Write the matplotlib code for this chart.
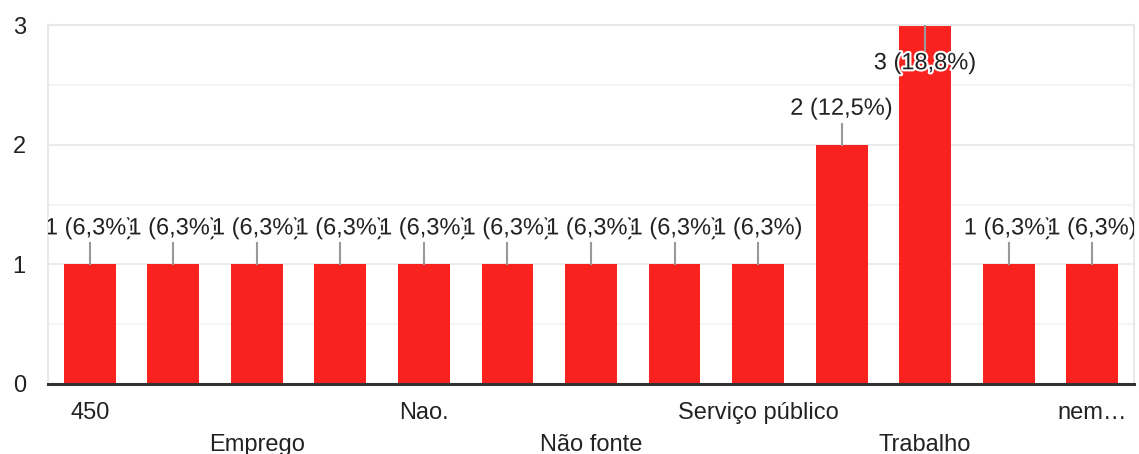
import matplotlib
matplotlib.use('Agg')
import matplotlib.pyplot as plt
import matplotlib.patheffects as pe
from matplotlib.ticker import MultipleLocator

plt.rcParams['font.family'] = ['Liberation Sans', 'DejaVu Sans']

# categorias (só as que aparecem no eixo; as outras ficam ocultas)
categorias = ['450', '', 'Emprego', '', 'Nao.', '', 'Não fonte', '',
              'Serviço público', '', 'Trabalho', '', 'nem…']
valores = [1, 1, 1, 1, 1, 1, 1, 1, 1, 2, 3, 1, 1]
y_ticks = [0, 1, 2, 3]

cor_barra = '#f9221f'
cor_texto = '#222222'

total = sum(valores)
x = list(range(len(valores)))

fig = plt.figure(figsize=(11.39, 4.54), dpi=100)
ax = fig.add_axes([48 / 1139, 70 / 454, 1086 / 1139, 359 / 454])

ax.bar(x, valores, width=0.62, color=cor_barra, zorder=2)

ax.set_xlim(-0.5, len(valores) - 0.5)
ax.set_ylim(0, 3)
ax.set_yticks(y_ticks)
ax.yaxis.set_minor_locator(MultipleLocator(0.5))
ax.grid(axis='y', which='major', color='#ebebeb', lw=1.5, zorder=0)
ax.grid(axis='y', which='minor', color='#f5f5f5', lw=1.5, zorder=0)
ax.tick_params(axis='y', which='both', length=0, pad=16, labelsize=17, labelcolor=cor_texto)

ax.set_xticks(x)
ax.set_xticklabels(categorias)
ax.tick_params(axis='x', length=0, pad=13, labelsize=17, labelcolor=cor_texto)
for i, t in enumerate(ax.xaxis.get_major_ticks()):
    if i % 4 == 2:
        t.set_pad(36)

for s in ['left', 'top', 'right']:
    ax.spines[s].set_color('#e8e8e8')
    ax.spines[s].set_linewidth(1.5)
ax.spines['bottom'].set_color('#333333')
ax.spines['bottom'].set_linewidth(2.2)
ax.spines['bottom'].set_zorder(5)

# rótulos de valor
for xi, v in zip(x, valores):
    pct = round(v / total * 100 + 1e-9, 1)
    rotulo = f'{v} ({pct:.1f}%)'.replace('.', ',')
    if v + 0.45 > ax.get_ylim()[1]:
        ax.plot([xi, xi], [v, v - 0.21], color='#999999', lw=1.5, zorder=3)
        ty = v - 0.32
    else:
        ax.plot([xi, xi], [v, v + 0.175], color='#999999', lw=1.5, zorder=3)
        ty = v + 0.30
    ax.text(xi, ty, rotulo, ha='center', va='center', fontsize=17, color=cor_texto,
            zorder=4, clip_on=True,
            path_effects=[pe.withStroke(linewidth=3, foreground='white')])

fig.savefig('out.png', dpi=100)
